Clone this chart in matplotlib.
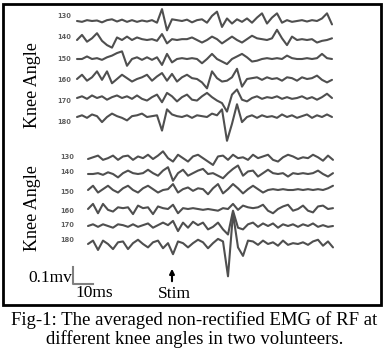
import matplotlib
matplotlib.use('Agg')
import numpy as np
import matplotlib.pyplot as plt
from matplotlib.patches import Rectangle

DT = 2.5
angles = ['130', '140', '150', '160', '170', '180']

# volunteer 1
top_130 = [0, -5, 5, 0, 3, -8, 5, 10, -3, 8, -5, 5, -5, 3, -3, 5, -10, 70, -55, 10,
           5, 0, 8, -8, 5, 10, -10, 30, 55, -35, 15, -15, 10, -5, 15, -10, 20, 45,
           -15, 20, 45, -10, 5, -5, 0, 5, -3, 5, 0, 15, 45, -20]
top_140 = [0, 30, -10, 10, 40, -5, -30, -45, 15, 0, 20, 0, 15, 5, 0, 5, -5, 35, -20,
           5, 0, 5, 5, 15, 0, -15, 0, 20, 5, -20, 0, 20, 0, -15, 5, 25, 10, 5, 0, 10,
           60, 10, -30, 20, 0, 5, 0, 5, -15, -5, 0, 10]
top_150 = [0, 0, 15, 0, 5, -5, 10, 20, 35, 45, -40, 0, 10, -5, 10, -5, 10, -35, 30,
           -20, 0, 5, 0, 5, 0, -25, 0, 30, 0, -15, -30, 0, 15, 30, 10, -15, -10, 0, 5,
           0, 5, 0, 20, 5, 0, 0, 5, 0, 5, 30, 5, 0]
top_160 = [0, 25, -10, 10, 45, -5, 45, -25, 0, 25, 5, -15, 0, 10, 25, -10, 15, 35,
           -10, 30, -15, 10, 25, 5, 0, -20, -55, 45, 5, -15, -10, 10, 60, -45, 0, 5,
           10, -5, 10, 0, 5, -10, 10, 5, -10, 10, 0, 5, 20, -5, -20, -5]
top_170 = [0, 10, -5, 15, 0, 10, -10, 5, 15, 0, 10, -5, 15, -5, -15, 5, 20, -25, 30,
           10, -20, 5, 20, -10, -15, 10, 30, 5, -15, -30, -80, 20, 50, -10, -20, 0,
           10, -5, 5, 0, 10, -5, 5, -5, 0, 10, -5, 5, -10, 5, 25, 0]
top_180 = [0, 10, -5, 15, 5, -30, 0, 20, 5, -5, -20, 5, 10, 20, 0, 5, 10, -80, 45,
           15, 5, 0, 10, -5, 10, 5, 0, 20, 10, 45, -140, -40, 75, -30, 0, 10, -5, 10,
           0, 5, -5, 15, 0, 10, -5, 5, 15, -5, 10, 0, 15, 0]

# volunteer 2
bot_130 = [0, 10, 20, -5, 5, 20, -5, 15, 20, -5, 15, 5, 25, 0, 20, 45, 5, -15, 25, 5,
           -15, 15, 25, 5, -15, -35, 15, 20, -5, 25, 5, 10, -5, 25, 5, 15, 25, -5, -15,
           10, 25, 15, 0, 10, 5, 25, 10, -10, 20, -5]
bot_140 = [0, 0, 5, -5, 10, 0, -20, 5, 20, 5, 0, 5, 25, 5, -10, 20, 40, -40, 5, 25,
           -10, 5, 20, 30, 0, 5, -10, -25, 5, 30, 50, -10, 15, 20, -15, 5, 25, 5, 0, 5,
           -15, 5, 0, 5, 0, 5, 20, 0, -15, 5]
bot_150 = [0, 25, -15, 5, 25, 0, -15, 10, 25, 0, -15, 10, 25, 5, -15, 0, 5, 35, -15,
           5, 15, -5, 10, 5, -25, 10, 35, -20, 5, 35, 10, -20, 5, 25, 5, -15, 0, 5, 0,
           5, 0, 0, 5, 0, 5, 0, 5, 0, 10, 25]
bot_160 = [0, 30, -25, 30, -5, -15, 10, 5, 10, -30, 20, 5, 10, -30, 15, 5, 0, 25, -25,
           5, 0, 5, 0, -5, 0, -5, -10, 5, 0, 30, -5, 20, 10, 5, 10, 25, -10, -25, 0, 15,
           25, -10, 0, 20, -10, -20, 15, 20, 0, 5]
bot_170 = [0, 10, -5, 10, 0, -10, 10, 5, -5, 10, -5, 5, 15, -10, 5, 20, 5, 30, -30,
           20, -10, 25, 5, 20, -20, -5, 20, -20, -50, 90, -10, -20, 10, 20, -5, 15, 0,
           15, -10, 10, 0, 10, -5, 10, 0, 15, -5, 5, -5, 0]
bot_180 = [0, 20, -35, 20, 0, -30, 10, 15, -30, 5, 25, 0, -20, 10, 20, -25, 5, -60,
           15, 5, -20, 5, 25, 10, -25, 5, 30, 15, -190, 180, -20, -70, 20, 15, -5, 20,
           0, 10, -10, 20, -5, 5, 0, 10, -5, 15, 25, -10, 15, -20]

top_traces = [top_130, top_140, top_150, top_160, top_170, top_180]
bot_traces = [bot_130, bot_140, bot_150, bot_160, bot_170, bot_180]

caption = ['Fig-1: The averaged non-rectified EMG of RF at',
           'different knee angles in two volunteers.']

# layout, in pixels of the 389x353 image
PX_PER_MS = 2.0
PX_PER_UV = 0.17
TRACE_COLOR = '#4f4f4f'
SERIF = 'Liberation Serif'

fig = plt.figure(figsize=(3.89, 3.53), dpi=100)
ax = fig.add_axes([0, 0, 1, 1])
ax.set_xlim(0, 389)
ax.set_ylim(353, 0)
ax.axis('off')


def draw_group(traces, x0, rows, label_x, label_rows):
    for vals, y0, ly, name in zip(traces, rows, label_rows, angles):
        v = np.asarray(vals, dtype=float)
        t = np.arange(len(v)) * DT
        ax.plot(x0 + t * PX_PER_MS, y0 - v * PX_PER_UV, color=TRACE_COLOR,
                lw=1.5, solid_joinstyle='round', solid_capstyle='round')
        ax.text(label_x, ly, name, fontsize=4.8, color='#606060',
                fontweight='bold', ha='right', va='center')


draw_group(top_traces, 77, [21, 40, 59, 79, 98, 117], 71,
           [16, 37, 59, 80, 101, 122])
draw_group(bot_traces, 88, [159, 174, 190, 209, 226, 244], 74,
           [157, 172, 192, 211, 225, 240])

for yc in (85, 208):
    ax.text(33, yc, 'Knee Angle', rotation=90, fontsize=13, family=SERIF,
            ha='center', va='center')

# scale bar: 0.1 mV and 10 ms
bx, by = 73, 284
ax.plot([bx, bx, bx + 10 * PX_PER_MS], [by - 100 * PX_PER_UV, by, by],
        color='#808080', lw=1.5)
ax.text(bx - 1, by - 6, '0.1mv', fontsize=12.5, family=SERIF, ha='right',
        va='center')
ax.text(bx + 2, by + 9, '10ms', fontsize=12.5, family=SERIF, ha='left',
        va='center')

# stimulus marker
ax.annotate('', xy=(172, 266), xytext=(172, 284),
            arrowprops=dict(arrowstyle='-|>', color='black', lw=1.5,
                            mutation_scale=7))
ax.text(174, 294, 'Stim', fontsize=12.5, family=SERIF, ha='center', va='center')

ax.add_patch(Rectangle((3.5, 3.5), 378, 301, fill=False, lw=2, ec='black'))

ax.text(194.5, 320, caption[0], fontsize=13.5, family=SERIF, ha='center',
        va='center')
ax.text(194.5, 339, caption[1], fontsize=13.5, family=SERIF, ha='center',
        va='center')

fig.savefig('out.png', dpi=100)
